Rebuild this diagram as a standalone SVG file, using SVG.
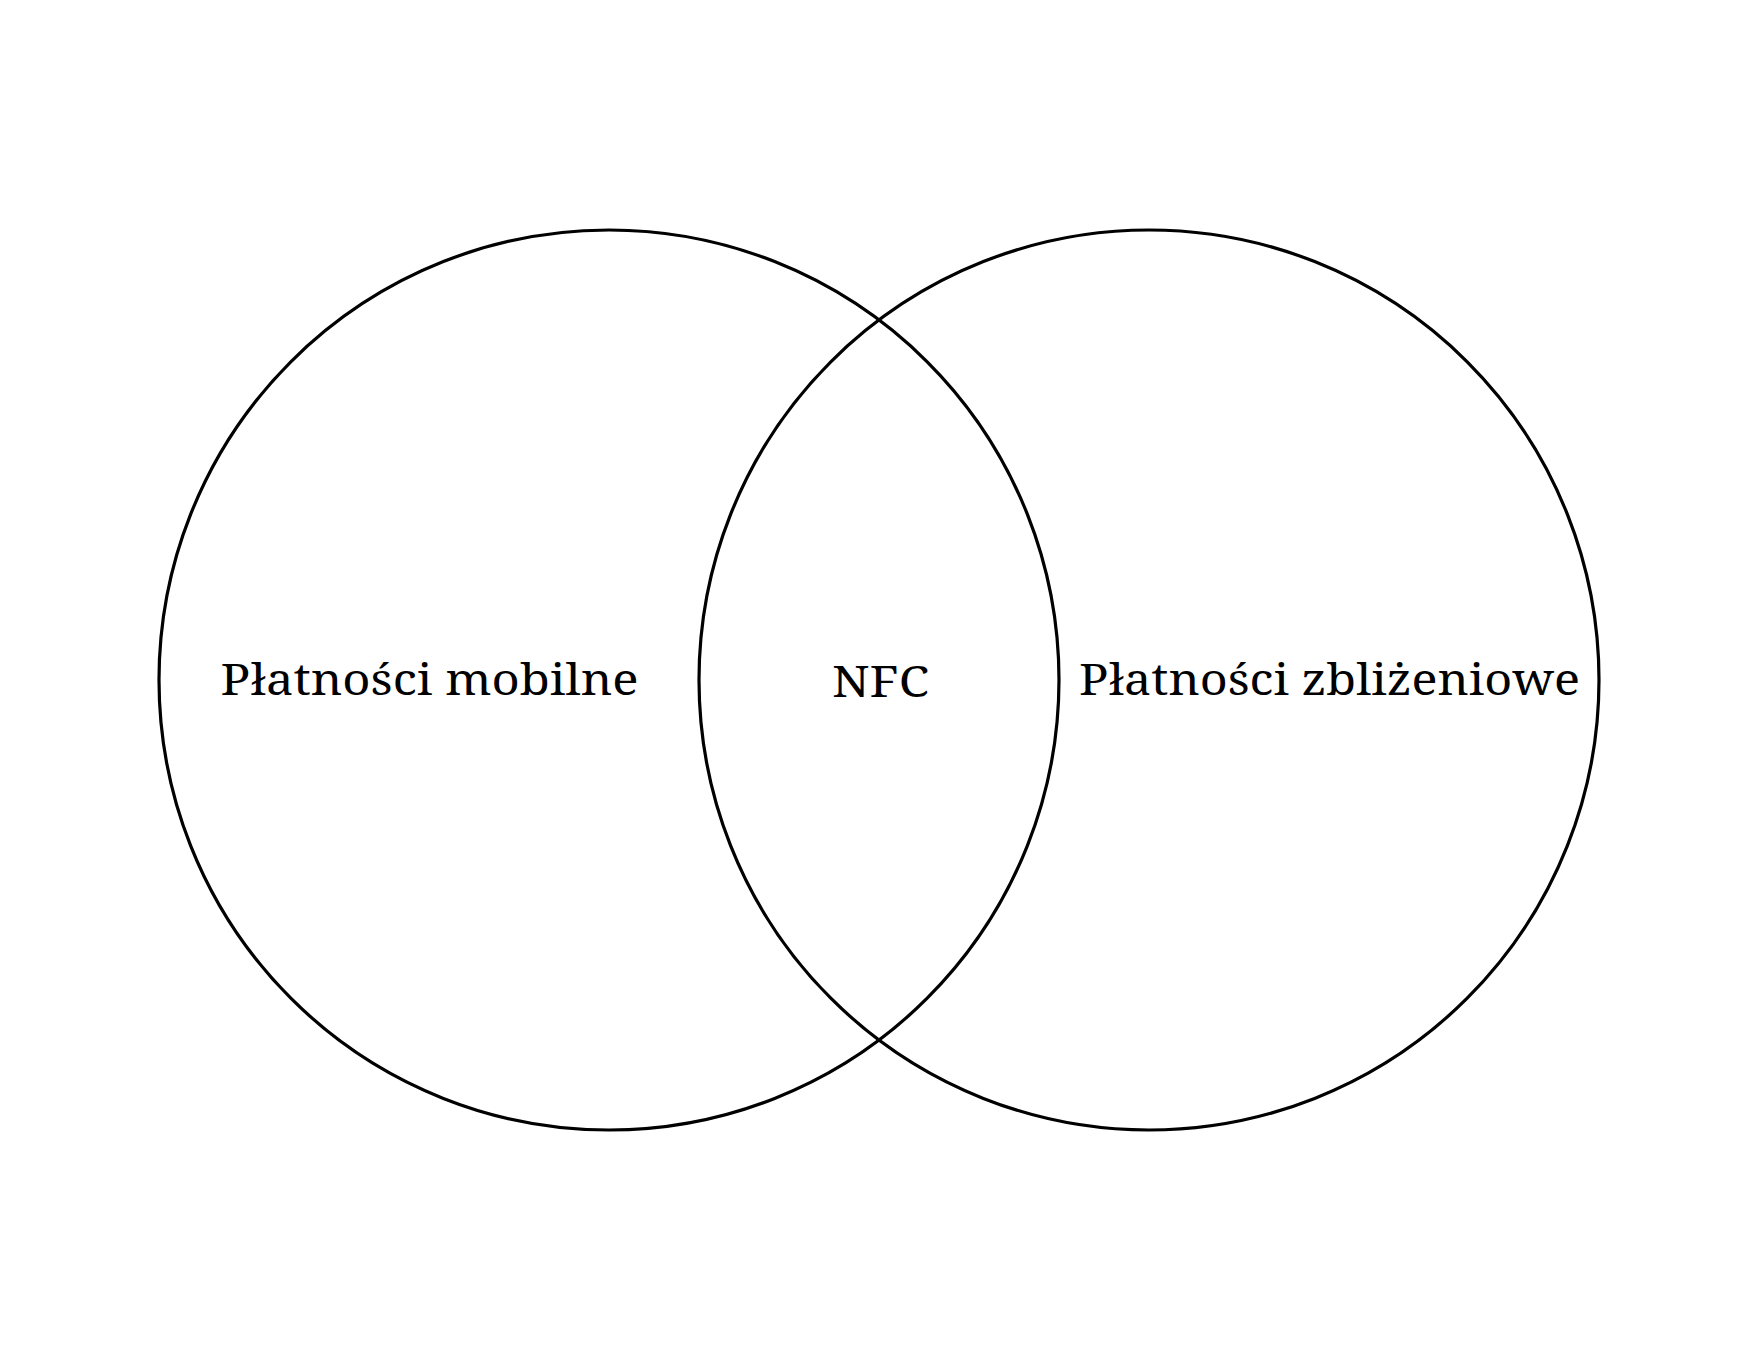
<svg xmlns="http://www.w3.org/2000/svg" width="1760" height="1360" viewBox="0 0 1760 1360">
  <style>
    .set { fill: none; stroke: #000; stroke-width: 3.2; }
    .label { font-family: "Noto Serif", "DejaVu Serif", "Liberation Serif", serif; font-size: 44px; fill: #000; text-anchor: middle; }
  </style>
  <rect width="1760" height="1360" fill="#fff"/>
  <g id="set-mobile">
    <circle class="set" cx="609" cy="680" r="450"/>
    <text class="label" x="429.5" y="695" textLength="418" lengthAdjust="spacingAndGlyphs">Płatności mobilne</text>
  </g>
  <g id="set-contactless">
    <circle class="set" cx="1149" cy="680" r="450"/>
    <text class="label" x="1329.5" y="695" textLength="501" lengthAdjust="spacingAndGlyphs">Płatności zbliżeniowe</text>
  </g>
  <g id="intersection">
    <text class="label" x="880.5" y="697" textLength="97" lengthAdjust="spacingAndGlyphs">NFC</text>
  </g>
</svg>
